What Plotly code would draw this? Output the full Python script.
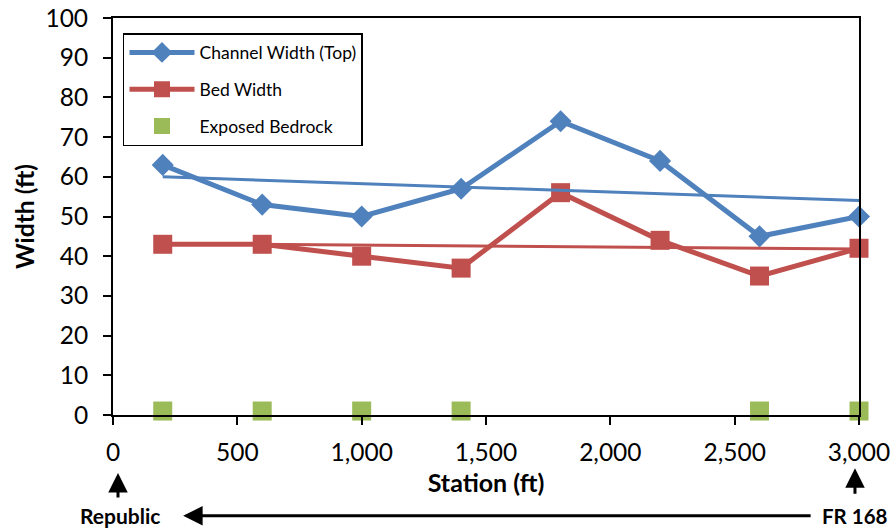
import numpy as np
import plotly.graph_objects as go

# Survey stations along the channel (ft)
stations = [200, 600, 1000, 1400, 1800, 2200, 2600, 3000]
channel_width = [63, 53, 50, 57, 74, 64, 45, 50]
bed_width = [43, 43, 40, 37, 56, 44, 35, 42]

# Stations where bedrock is exposed, plotted just above the axis
bedrock_stations = [200, 600, 1000, 1400, 2600, 3000]
bedrock_level = [1, 1, 1, 1, 1, 1]

x_ticks = [0, 500, 1000, 1500, 2000, 2500, 3000]
x_tick_labels = ["0", "500", "1,000", "1,500", "2,000", "2,500", "3,000"]
y_ticks = [0, 10, 20, 30, 40, 50, 60, 70, 80, 90, 100]

BLUE = "#4F81BD"
RED = "#C0504D"
GREEN = "#9BBB59"
FONT = "Lato"


def linear_trend(xs, ys):
    slope, intercept = np.polyfit(xs, ys, 1)
    ends = np.array([xs[0], xs[-1]], dtype=float)
    return ends, slope * ends + intercept


fig = go.Figure()

fig.add_trace(go.Scatter(
    x=stations, y=channel_width, name="Channel Width (Top)",
    mode="lines+markers", legendgroup="a", cliponaxis=False,
    line=dict(color=BLUE, width=5),
    marker=dict(symbol="diamond", size=17, color=BLUE),
))
fig.add_trace(go.Scatter(
    x=stations, y=bed_width, name="Bed Width",
    mode="lines+markers", legendgroup="b", cliponaxis=False,
    line=dict(color=RED, width=5),
    marker=dict(symbol="square", size=19, color=RED),
))
fig.add_trace(go.Scatter(
    x=bedrock_stations, y=bedrock_level, name="Exposed Bedrock",
    mode="markers", legendgroup="c", cliponaxis=False,
    marker=dict(symbol="square", size=19, color=GREEN),
))

# Linear trend lines for both width series
for xs, ys, color in [(stations, channel_width, BLUE), (stations, bed_width, RED)]:
    tx, ty = linear_trend(xs, ys)
    fig.add_trace(go.Scatter(
        x=tx, y=ty, mode="lines", showlegend=False, hoverinfo="skip",
        line=dict(color=color, width=3),
    ))

axis_common = dict(
    showgrid=False, zeroline=False, showline=True, linecolor="black",
    linewidth=2, mirror=True, ticks="outside", ticklen=8, tickwidth=1.5,
    tickcolor="black", automargin=False,
    tickfont=dict(family=FONT, size=24.5, color="black"),
)

fig.update_xaxes(
    range=[0, 3000], tickvals=x_ticks, ticktext=x_tick_labels,
    ticklabelstandoff=7,
    title=dict(text="<b>Station (ft)</b>", font=dict(family=FONT, size=25, color="black"), standoff=9),
    **axis_common,
)
fig.update_yaxes(
    range=[0, 100], tickvals=y_ticks, ticklabelstandoff=10,
    title=dict(text="<b>Width (ft)</b>", font=dict(family=FONT, size=24.5, color="black"), standoff=4),
    **axis_common,
)

# Direction of travel along the channel
annotations = [
    dict(x=0.0094, y=-0.254, xref="paper", yref="paper", text="<b>Republic</b>",
         showarrow=False, font=dict(family=FONT, size=21, color="black"),
         xanchor="center", yanchor="middle"),
    dict(x=0.9946, y=-0.254, xref="paper", yref="paper", text="<b>FR 168</b>",
         showarrow=False, font=dict(family=FONT, size=20.5, color="black"),
         xanchor="center", yanchor="middle"),
    dict(x=0.094, y=-0.254, xref="paper", yref="paper", text="",
         showarrow=True, ax=629, ay=0, arrowhead=2, arrowsize=1.3,
         arrowwidth=3, arrowcolor="black", font=dict(size=1)),
    dict(x=0.0067, y=-0.146, xref="paper", yref="paper", text="",
         showarrow=True, ax=0, ay=26, arrowhead=2, arrowsize=1.3,
         arrowwidth=3, arrowcolor="black", font=dict(size=1)),
    dict(x=0.9946, y=-0.134, xref="paper", yref="paper", text="",
         showarrow=True, ax=0, ay=27, arrowhead=2, arrowsize=1.3,
         arrowwidth=3, arrowcolor="black", font=dict(size=1)),
]

fig.update_layout(
    width=893, height=531,
    margin=dict(l=113, r=34, t=18, b=116),
    plot_bgcolor="white", paper_bgcolor="white",
    font=dict(family=FONT, color="black"),
    legend=dict(
        x=0.0134, y=0.962, xanchor="left", yanchor="top",
        bordercolor="black", borderwidth=1.5, bgcolor="white",
        font=dict(family=FONT, size=17.5, color="black"),
        tracegroupgap=11, itemwidth=65,
    ),
    annotations=annotations,
    showlegend=True,
)

fig.write_html("out.html")
